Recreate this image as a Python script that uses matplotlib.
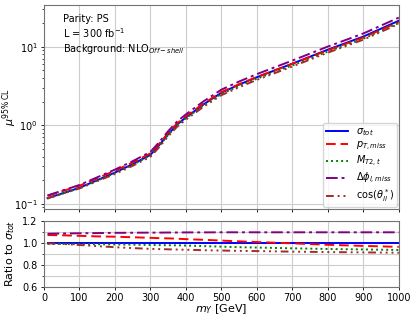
import numpy as np
import matplotlib
matplotlib.use('Agg')
import matplotlib.pyplot as plt
from matplotlib.ticker import MultipleLocator

# mass points (GeV) and sigma_tot limit
mass = [10, 50, 100, 150, 200, 250, 300, 325, 350, 375, 400, 450, 500,
        550, 600, 700, 800, 900, 1000]
mu_tot = [0.118, 0.135, 0.16, 0.2, 0.25, 0.32, 0.42, 0.56, 0.77, 1.02,
          1.26, 1.85, 2.6, 3.3, 4.1, 6.1, 9.2, 13.5, 21.5]

# ratio of each variable to sigma_tot (lower panel)
r_ptmiss = [1.07, 1.068, 1.063, 1.058, 1.055, 1.05, 1.045, 1.042, 1.04, 1.037,
            1.033, 1.027, 1.02, 1.013, 1.007, 0.995, 0.982, 0.972, 0.963]
r_mt2 = [0.99, 0.989, 0.988, 0.987, 0.985, 0.983, 0.98, 0.979, 0.978, 0.977,
         0.975, 0.97, 0.965, 0.96, 0.957, 0.95, 0.944, 0.94, 0.935]
r_dphi = [1.082, 1.084, 1.086, 1.088, 1.09, 1.091, 1.092, 1.092, 1.093, 1.093,
          1.094, 1.094, 1.095, 1.095, 1.095, 1.095, 1.095, 1.095, 1.095]
r_cos = [0.995, 0.99, 0.98, 0.97, 0.96, 0.952, 0.945, 0.943, 0.941, 0.939,
         0.937, 0.933, 0.93, 0.927, 0.925, 0.92, 0.916, 0.913, 0.91]

labels = [r'$\sigma_{tot}$', r'$p_{T,miss}$', r'$M_{T2,t}$',
          r'$\Delta\phi_{l,miss}$', r'$\cos(\theta^*_{ll})$']
colors = ['blue', 'red', 'green', 'purple', 'brown']
styles = ['-', (0, (5, 2.5)), (0, (1, 1.6)), (0, (6, 2, 1.5, 2)),
          (0, (4, 2, 1, 2, 1, 2, 1, 2))]

ratios = [np.ones(len(mass)), r_ptmiss, r_mt2, r_dphi, r_cos]

plt.rcParams['font.size'] = 7
fig = plt.figure(figsize=(4.15, 3.18), dpi=100)
ax1 = fig.add_axes([0.106, 0.343, 0.855, 0.641])
ax2 = fig.add_axes([0.106, 0.0975, 0.855, 0.2085], sharex=ax1)

for r, lab, c, ls in zip(ratios, labels, colors, styles):
    ax1.plot(mass, np.array(mu_tot) * np.array(r), color=c, ls=ls, lw=1.4, label=lab)
    ax2.plot(mass, r, color=c, ls=ls, lw=1.4)

ax1.set_yscale('log')
ax1.set_ylim(0.086, 34)
ax1.set_xlim(0, 1000)
ax1.xaxis.set_major_locator(MultipleLocator(100))
ax1.grid(True, which='major', color='#cccccc', lw=0.8)
ax1.tick_params(labelbottom=False)
ax1.set_ylabel(r'$\mu^{95\%\,\mathrm{CL}}$', fontsize=8)
ax1.yaxis.set_label_coords(-0.07, 0.5)
ax1.text(0.053, 0.955, 'Parity: PS\nL = 300 fb$^{-1}$\nBackground: NLO$_{Off-shell}$',
         transform=ax1.transAxes, va='top', ha='left', fontsize=7, linespacing=1.2)
leg = ax1.legend(loc='lower right', fontsize=7, handlelength=2.3,
                 borderaxespad=0.2, labelspacing=0.15, borderpad=0.3)

ax2.set_ylim(0.6, 1.2)
ax2.yaxis.set_major_locator(MultipleLocator(0.2))
ax2.yaxis.set_minor_locator(MultipleLocator(0.1))
ax2.grid(True, which='both', color='#cccccc', lw=0.8)
ax2.set_ylabel(r'Ratio to $\sigma_{tot}$', fontsize=8)
ax2.set_xlabel(r'$m_Y$ [GeV]', fontsize=8)
ax2.xaxis.set_label_coords(0.5, -0.225)

for ax in (ax1, ax2):
    ax.tick_params(which='major', length=2.5, width=0.6, pad=2)
    ax.tick_params(which='minor', length=1.5, width=0.5)
    for s in ax.spines.values():
        s.set_color('0.45')

fig.savefig('out.png', dpi=100)
